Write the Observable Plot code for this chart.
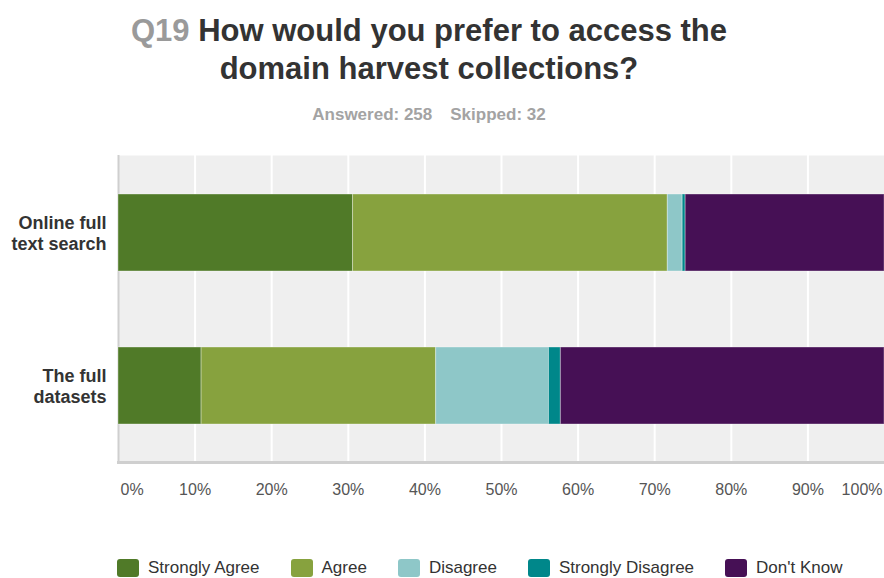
<!DOCTYPE html>
<html>
<head>
<meta charset="utf-8">
<script src="https://cdn.jsdelivr.net/npm/d3@7"></script>
<script src="https://cdn.jsdelivr.net/npm/@observablehq/plot@0.6"></script>
<style>
  html, body { margin: 0; padding: 0; background: #fff; }
  body { width: 884px; height: 578px; position: relative; overflow: hidden;
         font-family: "Liberation Sans", Arial, sans-serif; }
  #title { position: absolute; left: 0; top: 12px; width: 858px; text-align: center;
           font-size: 31px; font-weight: bold; line-height: 38px; color: #333; }
  #title .q { color: #9a9a9a; }
  #sub { position: absolute; left: 0; top: 105px; width: 858px; text-align: center;
         font-size: 17px; font-weight: bold; color: #a3a3a3; }
  #sub span { margin: 0 9px; }
  #chart { position: absolute; left: 0; top: 140px; }
  #legend { position: absolute; left: 117px; top: 558px; display: flex; gap: 31px;
            font-size: 17px; color: #333; white-space: nowrap; }
  #legend .item { display: flex; align-items: center; }
  #legend .sw { width: 22px; height: 18px; border-radius: 3px; margin-right: 9px; }
</style>
</head>
<body>
<div id="title"><span class="q">Q19</span> How would you prefer to access the<br>domain harvest collections?</div>
<div id="sub"><span>Answered: 258</span><span>Skipped: 32</span></div>
<div id="chart"></div>
<div id="legend"></div>
<script>
const categories = ["Online full text search", "The full datasets"];
const categoryLabels = ["Online full\ntext search", "The full\ndatasets"];
const responses = ["Strongly Agree", "Agree", "Disagree", "Strongly Disagree", "Don't Know"];
const colors = ["#507a28", "#87a23e", "#8ec7c8", "#00878a", "#461055"];
const onlineValues = [30.62, 41.09, 1.94, 0.39, 25.97];
const fullValues = [10.85, 30.62, 14.73, 1.55, 42.25];
const tickValues = [0, 10, 20, 30, 40, 50, 60, 70, 80, 90, 100];

const seriesByCategory = [onlineValues, fullValues];
const rows = [];
categories.forEach((c, i) => {
  responses.forEach((r, j) => rows.push({category: c, response: r, value: seriesByCategory[i][j]}));
});
const labelOf = new Map(categories.map((c, i) => [c, categoryLabels[i]]));

const font = '"Liberation Sans", Arial, sans-serif';
const pct = d => d + "%";

const chart = Plot.plot({
  width: 884,
  height: 375,
  marginTop: 15,
  marginBottom: 53,
  marginLeft: 118,
  marginRight: 0,
  style: {fontFamily: font, background: "transparent"},
  x: {domain: [0, 100], axis: null, label: null},
  y: {domain: categories, paddingInner: 0.5, paddingOuter: 0.25, axis: null, label: null},
  color: {domain: responses, range: colors},
  marks: [
    Plot.frame({fill: "#efefef", stroke: null}),
    Plot.ruleX(tickValues.filter(d => d > 0 && d < 100), {stroke: "#fff", strokeWidth: 2}),
    Plot.ruleX([0], {stroke: "#cfcfcf", strokeWidth: 2}),
    Plot.frame({anchor: "bottom", stroke: "#cfcfcf", strokeWidth: 3}),
    Plot.barX(rows, Plot.stackX({x: "value", y: "category", fill: "response",
      stroke: "#fff", strokeOpacity: 0.35, strokeWidth: 1})),
    Plot.axisY({tickSize: 0, tickPadding: 12, fontSize: 18, fontWeight: "bold", label: null,
      fill: "#333", lineHeight: 1.15, tickFormat: d => labelOf.get(d)}),
    Plot.axisX(tickValues.filter(d => d > 0 && d < 100), {tickSize: 0, tickPadding: 21, label: null,
      fontSize: 16, fill: "#555", tickFormat: pct}),
    Plot.axisX([0], {tickSize: 0, tickPadding: 21, fontSize: 16, fill: "#555", label: null,
      textAnchor: "start", dx: 2, tickFormat: pct}),
    Plot.axisX([100], {tickSize: 0, tickPadding: 21, fontSize: 16, fill: "#555", label: null,
      textAnchor: "end", dx: -2, tickFormat: pct})
  ]
});
document.getElementById("chart").appendChild(chart);

const legend = document.getElementById("legend");
responses.forEach((r, i) => {
  const item = document.createElement("div");
  item.className = "item";
  const sw = document.createElement("div");
  sw.className = "sw";
  sw.style.background = colors[i];
  const t = document.createElement("span");
  t.textContent = r;
  item.appendChild(sw);
  item.appendChild(t);
  legend.appendChild(item);
});
</script>
</body>
</html>
